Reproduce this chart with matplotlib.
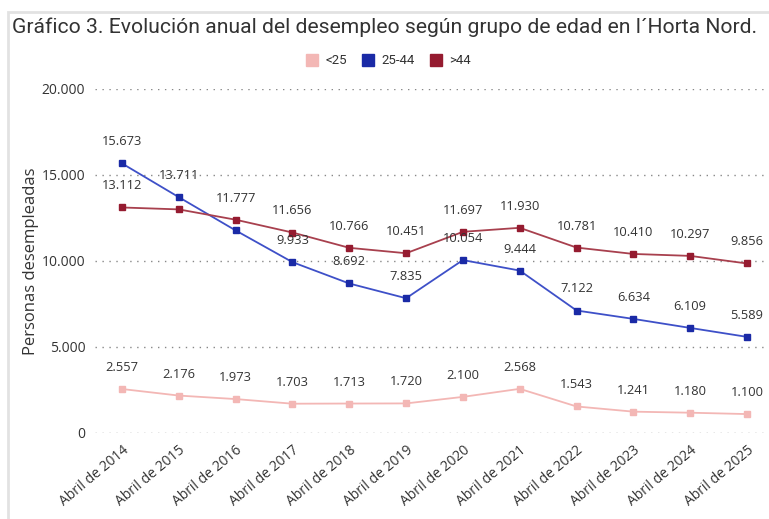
import matplotlib
matplotlib.use("Agg")
import matplotlib.pyplot as plt
from matplotlib.lines import Line2D
from matplotlib.patches import Rectangle

YEARS = ["Abril de 2014", "Abril de 2015", "Abril de 2016", "Abril de 2017",
         "Abril de 2018", "Abril de 2019", "Abril de 2020", "Abril de 2021",
         "Abril de 2022", "Abril de 2023", "Abril de 2024", "Abril de 2025"]
UNDER_25 = [2557, 2176, 1973, 1703, 1713, 1720, 2100, 2568, 1543, 1241, 1180, 1100]
AGE_25_44 = [15673, 13711, 11777, 9933, 8692, 7835, 10054, 9444, 7122, 6634, 6109, 5589]
OVER_44 = [13112, 13000, 12400, 11656, 10766, 10451, 11697, 11930, 10781, 10410, 10297, 9856]
# data labels as they appear in the original (empty = no label shown)
UNDER_25_LABELS = ["2.557", "2.176", "1.973", "1.703", "1.713", "1.720", "2.100",
                   "2.568", "1.543", "1.241", "1.180", "1.100"]
AGE_25_44_LABELS = ["15.673", "13.711", "", "9.933", "8.692", "7.835", "10.054",
                    "9.444", "7.122", "6.634", "6.109", "5.589"]
OVER_44_LABELS = ["13.112", "", "11.777", "11.656", "10.766", "10.451", "11.697",
                  "11.930", "10.781", "10.410", "10.297", "9.856"]
Y_TICKS = [0, 5000, 10000, 15000, 20000]
Y_TICK_LABELS = ["0", "5.000", "10.000", "15.000", "20.000"]

SERIES = [
    ("<25", UNDER_25, UNDER_25_LABELS, "#f3b7b5", "#f3b7b5"),
    ("25-44", AGE_25_44, AGE_25_44_LABELS, "#3e50c8", "#1a2aa6"),
    (">44", OVER_44, OVER_44_LABELS, "#a8404e", "#951b30"),
]

BODY_FONT = ["Open Sans", "DejaVu Sans"]
TITLE_FONT = ["Roboto", "DejaVu Sans"]
TEXT_COLOR = "#333333"

W, H = 769, 519
X0, X11, STEP = 122, 747, (747 - 122) / 11  # pixel positions of first/last category
fig = plt.figure(figsize=(W / 100, H / 100), dpi=100)
ax = fig.add_axes([95 / W, 1 - 433 / H, 670 / W, (433 - 89) / H])

x = list(range(len(YEARS)))
for name, values, labels, line_color, marker_color in SERIES:
    ax.plot(x, values, color=line_color, linewidth=1.3, marker="s", markersize=5,
            markerfacecolor=marker_color, markeredgecolor=marker_color, zorder=3)
    for xi, v, lab in zip(x, values, labels):
        if lab:
            ax.annotate(lab, (xi, v), xytext=(0, 15.5), textcoords="offset points",
                        ha="center", va="center", fontsize=9.3, color=TEXT_COLOR,
                        family=BODY_FONT, zorder=4)

ax.set_xlim(-(X0 - 95) / STEP, 11 + (765 - X11) / STEP)
ax.set_ylim(0, 20000)
ax.set_yticks(Y_TICKS)
ax.set_yticklabels(Y_TICK_LABELS, family=BODY_FONT, fontsize=10, color=TEXT_COLOR)
ax.set_xticks(x)
ax.set_xticklabels(YEARS, rotation=40, ha="right", rotation_mode="anchor",
                   family=BODY_FONT, fontsize=10, color=TEXT_COLOR)
ax.tick_params(length=0, pad=7)
ax.yaxis.grid(True, linestyle=(0, (1, 4)), color="#888888", linewidth=1.0)
ax.set_axisbelow(True)
for s in ax.spines.values():
    s.set_visible(False)
ax.set_ylabel("Personas desempleadas", family=BODY_FONT, fontsize=12, color=TEXT_COLOR,
              labelpad=2)

fig.text(385 / W, 1 - 27 / H, "Gráfico 3. Evolución anual del desempleo según grupo de edad en l´Horta Nord.",
         ha="center", va="center", fontsize=15.2, color=TEXT_COLOR, family=TITLE_FONT)

handles = [Line2D([], [], marker="s", linestyle="none", markersize=8,
                  markerfacecolor=mc, markeredgecolor=mc) for _, _, _, _, mc in SERIES]
leg = fig.legend(handles, [s[0] for s in SERIES], loc="center", bbox_to_anchor=(385 / W, 1 - 61 / H),
                 ncol=3, frameon=False, handletextpad=0.0, columnspacing=0.6,
                 prop={"family": TITLE_FONT, "size": 9.5})
for t in leg.get_texts():
    t.set_color(TEXT_COLOR)

fig.patches.append(Rectangle((8 / W, -0.05), 1.1, 1 - 12 / H + 0.05, transform=fig.transFigure,
                             fill=False, edgecolor="#e2e2e2", linewidth=2))

fig.savefig("out.png", dpi=100)
